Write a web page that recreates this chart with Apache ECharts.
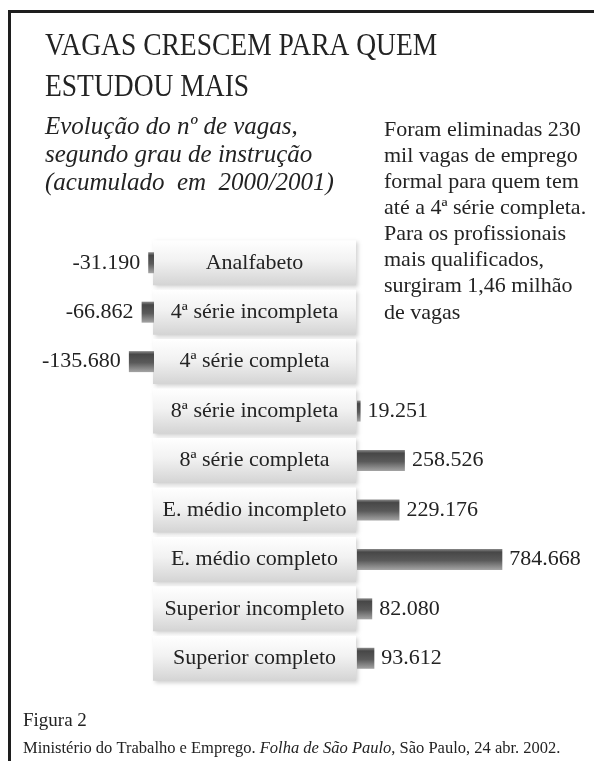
<!DOCTYPE html>
<html>
<head>
<meta charset="utf-8">
<script src="https://cdn.jsdelivr.net/npm/echarts@6/dist/echarts.min.js"></script>
<style>
  html, body { margin: 0; padding: 0; background: #ffffff; }
  #chart { width: 594px; height: 761px; }
</style>
</head>
<body>
<div id="chart"></div>
<script>
// Education levels (top to bottom) and net change in formal jobs, 2000/2001
const categories = [
  'Analfabeto',
  '4ª série incompleta',
  '4ª série completa',
  '8ª série incompleta',
  '8ª série completa',
  'E. médio incompleto',
  'E. médio completo',
  'Superior incompleto',
  'Superior completo'
];
const vagas = [-31190, -66862, -135680, 19251, 258526, 229176, 784668, 82080, 93612];

const headline = ['VAGAS CRESCEM PARA QUEM', 'ESTUDOU MAIS'];
const subtitle = 'Evolução do nº de vagas,\nsegundo grau de instrução\n(acumulado  em  2000/2001)';
const note = 'Foram eliminadas 230\nmil vagas de emprego\nformal para quem tem\naté a 4ª série completa.\nPara os profissionais\nmais qualificados,\nsurgiram 1,46 milhão\nde vagas';

// Shared half-axis extent so both sides use the same px-per-job scale
const axisExtent = 810000;

const SERIF = '"Liberation Serif", "DejaVu Serif", serif';
const INK = '#232323';

function fmt(v) {
  const s = Math.abs(v).toString().replace(/\B(?=(\d{3})+(?!\d))/g, '.');
  return (v < 0 ? '-' : '') + s;
}

const losses = vagas.map(v => (v < 0 ? v : '-'));
const gains = vagas.map(v => (v > 0 ? v : '-'));

const barFill = {
  type: 'linear', x: 0, y: 0, x2: 0, y2: 1,
  colorStops: [
    { offset: 0, color: '#8c8c8c' },
    { offset: 0.15, color: '#474747' },
    { offset: 0.55, color: '#5a5a5a' },
    { offset: 1, color: '#a4a4a4' }
  ]
};

const boxFill = {
  type: 'linear', x: 0, y: 0, x2: 0, y2: 1,
  colorStops: [
    { offset: 0, color: '#ffffff' },
    { offset: 0.45, color: '#f2f2f2' },
    { offset: 1, color: '#d4d4d4' }
  ]
};

// Headline set in a narrowed serif
const headlineText = headline.map((line, i) => ({
  type: 'text',
  x: 45, y: 46.5 + i * 41,
  scaleX: 0.86,
  style: {
    text: line, x: 0, y: 0,
    fontFamily: SERIF, fontSize: 32, fill: INK,
    align: 'left', verticalAlign: 'middle'
  }
}));

const chart = echarts.init(document.getElementById('chart'), null, { renderer: 'canvas' });

chart.setOption({
  backgroundColor: '#ffffff',
  animation: false,
  title: [
    {
      text: subtitle,
      left: 40, top: 108,
      textStyle: { fontFamily: SERIF, fontSize: 25, fontStyle: 'italic', fontWeight: 'normal', lineHeight: 28, color: INK }
    },
    {
      text: note,
      left: 379, top: 112,
      textStyle: { fontFamily: SERIF, fontSize: 22, fontWeight: 'normal', lineHeight: 26.1, color: INK }
    },
    {
      text: 'Figura 2',
      left: 18, top: 707,
      textStyle: { fontFamily: SERIF, fontSize: 19, fontWeight: 'normal', color: INK }
    },
    {
      text: '{n|Ministério do Trabalho e Emprego. }{i|Folha de São Paulo}{n|, São Paulo, 24 abr. 2002.}',
      left: 18, top: 735,
      textStyle: {
        rich: {
          n: { fontFamily: SERIF, fontSize: 16.5, fontWeight: 'normal', color: INK },
          i: { fontFamily: SERIF, fontSize: 16.5, fontWeight: 'normal', fontStyle: 'italic', color: INK }
        }
      }
    }
  ],
  graphic: [
    {
      type: 'polyline',
      shape: { points: [[9.5, 761], [9.5, 11.5], [594, 11.5]] },
      style: { stroke: '#1e1e1e', lineWidth: 3, fill: null }
    }
  ].concat(headlineText),
  grid: [
    { left: 4, width: 150, top: 238, height: 445 },
    { left: 357, width: 150, top: 238, height: 445 }
  ],
  xAxis: [
    { gridIndex: 0, type: 'value', min: -axisExtent, max: 0, show: false },
    { gridIndex: 1, type: 'value', min: 0, max: axisExtent, show: false }
  ],
  yAxis: [
    { gridIndex: 0, type: 'category', data: categories, inverse: true, show: false },
    {
      gridIndex: 1, type: 'category', data: categories, inverse: true,
      axisLine: { show: false }, axisTick: { show: false }, splitLine: { show: false },
      axisLabel: {
        margin: 1,
        formatter: v => '{box|' + v + '}',
        rich: {
          box: {
            width: 203, height: 45, lineHeight: 45, align: 'center',
            fontFamily: SERIF, fontSize: 22, color: INK,
            backgroundColor: boxFill,
            shadowColor: 'rgba(0,0,0,0.18)', shadowBlur: 4, shadowOffsetX: 2, shadowOffsetY: 2
          }
        }
      }
    }
  ],
  series: [
    {
      type: 'bar', xAxisIndex: 0, yAxisIndex: 0, data: losses, barWidth: 21,
      itemStyle: { color: barFill },
      label: { show: true, position: 'left', distance: 8, formatter: p => fmt(p.value),
               fontFamily: SERIF, fontSize: 22, color: INK }
    },
    {
      type: 'bar', xAxisIndex: 1, yAxisIndex: 1, data: gains, barWidth: 21,
      itemStyle: { color: barFill },
      label: { show: true, position: 'right', distance: 7, formatter: p => fmt(p.value),
               fontFamily: SERIF, fontSize: 22, color: INK }
    }
  ]
});
</script>
</body>
</html>
